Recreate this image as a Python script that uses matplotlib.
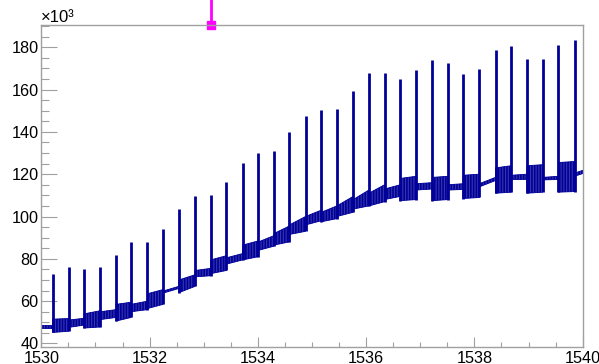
import numpy as np
import matplotlib
matplotlib.use('Agg')
import matplotlib.pyplot as plt
from matplotlib.ticker import MultipleLocator

plt.rcParams['font.family'] = ['Liberation Sans', 'DejaVu Sans']
plt.rcParams['hatch.color'] = '#000088'
plt.rcParams['hatch.linewidth'] = 1.2

# spike positions and peak heights (x10^3)
spike_x = [1530.21, 1530.51, 1530.79, 1531.09, 1531.38, 1531.66, 1531.96, 1532.25,
           1532.54, 1532.84, 1533.13, 1533.42, 1533.72, 1534.01, 1534.30, 1534.58,
           1534.88, 1535.17, 1535.46, 1535.76, 1536.05, 1536.34, 1536.63, 1536.92,
           1537.22, 1537.51, 1537.79, 1538.09, 1538.39, 1538.68, 1538.97, 1539.26,
           1539.55, 1539.85]
spike_top = [72.7, 76.2, 75.1, 76.2, 82.0, 87.8, 87.8, 94.0, 103.5, 109.7, 110.2,
             116.3, 125.3, 130.0, 130.8, 140.0, 147.5, 150.2, 151.0, 159.5, 167.9,
             167.9, 165.0, 169.4, 173.9, 172.7, 167.2, 169.6, 178.6, 180.5, 174.5,
             174.5, 181.1, 183.3]

# envelope of the baseline between spikes (start / end of each interval)
lo_start = [47.3, 45.2, 47.6, 47.3, 51.3, 50.6, 55.0, 56.5, 63.8, 64.0, 71.5, 73.0,
            77.5, 79.5, 84.0, 86.5, 91.5, 96.0, 97.5, 100.0, 103.5, 105.0, 108.0,
            107.5, 112.5, 107.5, 112.5, 108.5, 114.0, 111.0, 117.5, 111.0, 117.3,
            111.5, 119.0]
lo_end = [47.3, 45.8, 48.7, 47.8, 52.3, 52.3, 56.0, 58.5, 66.0, 67.0, 72.0, 74.5,
          79.5, 81.0, 86.0, 88.0, 93.0, 98.0, 99.0, 102.0, 105.0, 107.0, 109.5,
          108.0, 113.0, 108.0, 112.8, 109.0, 117.0, 111.5, 117.5, 111.5, 117.5,
          111.8, 120.3]
hi_start = [48.6, 51.5, 51.1, 54.0, 55.0, 58.5, 58.5, 63.5, 64.8, 70.0, 74.5, 79.5,
            80.5, 86.5, 88.0, 92.0, 96.0, 100.0, 102.0, 105.0, 108.0, 111.0, 113.0,
            118.0, 115.5, 118.5, 115.0, 119.5, 115.5, 123.0, 119.5, 124.0, 118.5,
            125.5, 120.5]
hi_end = [48.6, 51.8, 51.9, 55.5, 56.0, 59.5, 60.0, 65.5, 67.0, 72.5, 75.5, 81.5,
          82.5, 88.5, 91.0, 95.5, 100.0, 103.0, 105.0, 109.5, 112.5, 115.0, 115.0,
          119.0, 116.0, 119.0, 115.5, 120.0, 118.5, 124.0, 120.0, 124.5, 119.0,
          126.0, 121.8]

marker_x = 1533.13

line_col = '#000099'
frame_col = '#a0a0a0'

fig = plt.figure(figsize=(5.99, 3.64), dpi=100)
ax = fig.add_axes([41.3 / 599, 17 / 364, 541.4 / 599, 322 / 364])

edges = [1530.0] + spike_x + [1540.0]
for k in range(len(lo_start)):
    ax.fill_between([edges[k], edges[k + 1]], [lo_start[k], lo_end[k]],
                    [hi_start[k], hi_end[k]], facecolor='#3535aa',
                    edgecolor=line_col, hatch='||||||', linewidth=0.6)

base = [min(lo_end[i], lo_start[i + 1]) for i in range(len(spike_x))]
ax.vlines(spike_x, base, spike_top, colors=line_col, linewidth=2.0)

# magenta marker sitting on the top frame
ax.plot([marker_x, marker_x], [190.5, 205], color='magenta', lw=2, clip_on=False)
ax.plot([marker_x], [190.5], 's', ms=6, color='magenta', clip_on=False)

ax.set_xlim(1530, 1540)
ax.set_ylim(38.34, 190.5)
ax.xaxis.set_major_locator(MultipleLocator(2))
ax.xaxis.set_minor_locator(MultipleLocator(0.5))
ax.yaxis.set_major_locator(MultipleLocator(20))
ax.yaxis.set_minor_locator(MultipleLocator(5))

for s in ax.spines.values():
    s.set_color(frame_col)
    s.set_linewidth(1.0)

ax.tick_params(axis='both', which='both', direction='in', color=frame_col,
               width=0.8, labelsize=11.7, top=False, right=False)
ax.tick_params(axis='x', which='major', length=7.2, pad=3)
ax.tick_params(axis='x', which='minor', length=3.6)
ax.tick_params(axis='y', which='major', length=11.5, pad=2)
ax.tick_params(axis='y', which='minor', length=5.8)

ax.text(0.0, 1.0, '\u00d710\u00b3', transform=ax.transAxes, ha='left', va='bottom',
        fontsize=12)

fig.savefig('out.png', dpi=100)
